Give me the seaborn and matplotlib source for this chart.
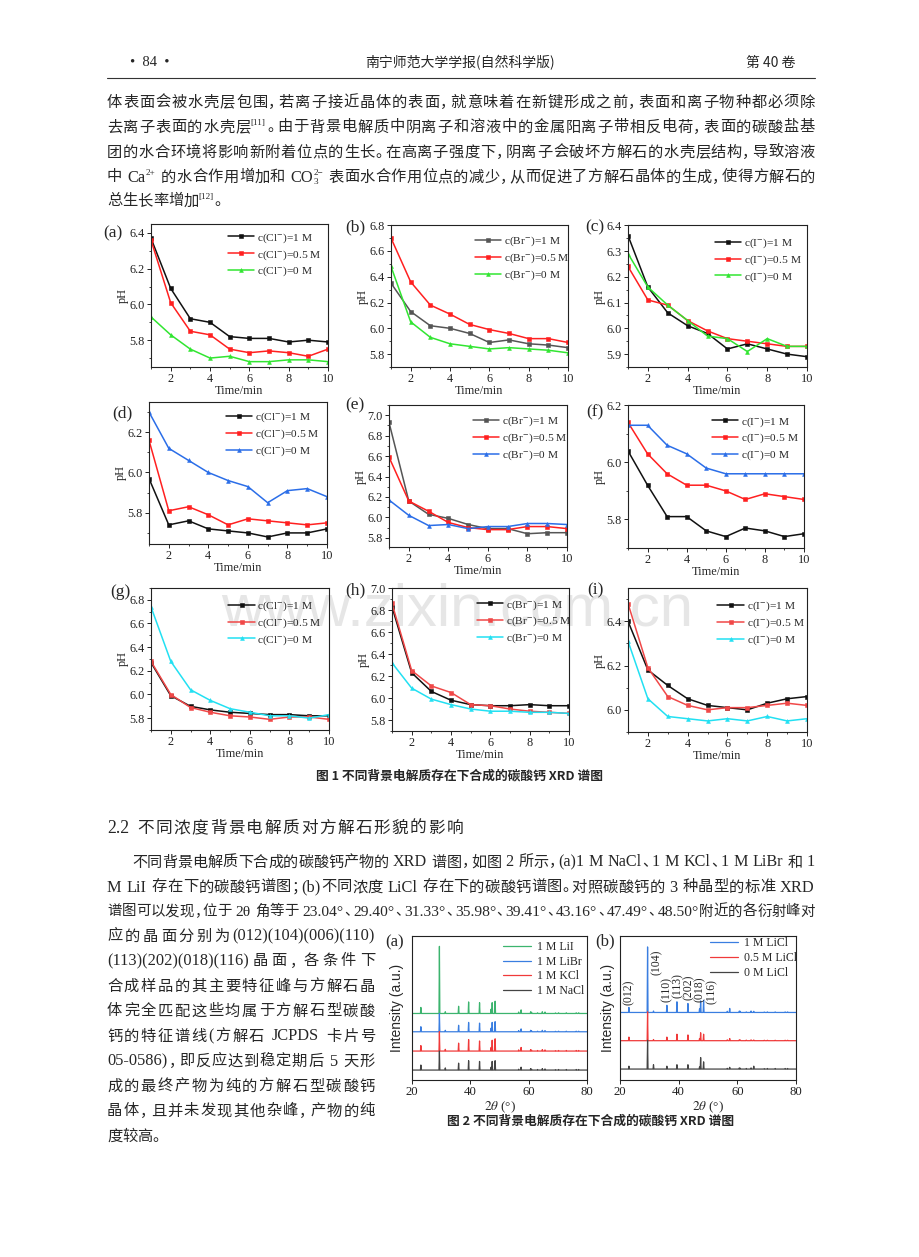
import matplotlib
matplotlib.use('Agg')
import matplotlib.pyplot as plt
from matplotlib.ticker import MultipleLocator, FormatStrFormatter
import seaborn as sns

W, H = 920, 1257

# pH readings for fig 1
time_min = [1, 2, 3, 4, 5, 6, 7, 8, 9, 10]

ph_a_1m = [6.37, 6.09, 5.92, 5.90, 5.82, 5.81, 5.81, 5.79, 5.80, 5.79]
ph_a_05m = [6.36, 6.01, 5.85, 5.83, 5.75, 5.73, 5.74, 5.73, 5.71, 5.75]
ph_a_0m = [5.93, 5.83, 5.75, 5.70, 5.71, 5.68, 5.68, 5.69, 5.69, 5.68]

ph_b_1m = [6.35, 6.13, 6.02, 6.00, 5.96, 5.89, 5.91, 5.88, 5.87, 5.85]
ph_b_05m = [6.70, 6.36, 6.18, 6.11, 6.03, 5.99, 5.96, 5.92, 5.92, 5.89]
ph_b_0m = [6.48, 6.05, 5.93, 5.88, 5.86, 5.84, 5.85, 5.84, 5.83, 5.81]

ph_c_1m = [6.36, 6.16, 6.06, 6.01, 5.98, 5.92, 5.94, 5.92, 5.90, 5.89]
ph_c_05m = [6.24, 6.11, 6.09, 6.03, 5.99, 5.96, 5.95, 5.94, 5.93, 5.93]
ph_c_0m = [6.29, 6.16, 6.09, 6.03, 5.97, 5.96, 5.91, 5.96, 5.93, 5.93]

ph_d_1m = [5.97, 5.74, 5.76, 5.72, 5.71, 5.70, 5.68, 5.70, 5.70, 5.72]
ph_d_05m = [6.16, 5.81, 5.83, 5.79, 5.74, 5.77, 5.76, 5.75, 5.74, 5.75]
ph_d_0m = [6.30, 6.12, 6.06, 6.00, 5.96, 5.93, 5.85, 5.91, 5.92, 5.88]

ph_e_1m = [6.93, 6.16, 6.03, 5.99, 5.93, 5.89, 5.89, 5.84, 5.85, 5.85]
ph_e_05m = [6.59, 6.16, 6.06, 5.95, 5.90, 5.88, 5.88, 5.91, 5.91, 5.89]
ph_e_0m = [6.17, 6.02, 5.92, 5.93, 5.89, 5.91, 5.91, 5.94, 5.94, 5.93]

ph_f_1m = [6.04, 5.92, 5.81, 5.81, 5.76, 5.74, 5.77, 5.76, 5.74, 5.75]
ph_f_05m = [6.14, 6.03, 5.96, 5.92, 5.92, 5.90, 5.87, 5.89, 5.88, 5.87]
ph_f_0m = [6.13, 6.13, 6.06, 6.03, 5.98, 5.96, 5.96, 5.96, 5.96, 5.96]

ph_g_1m = [6.27, 5.99, 5.90, 5.87, 5.85, 5.84, 5.83, 5.83, 5.82, 5.82]
ph_g_05m = [6.28, 6.00, 5.89, 5.85, 5.82, 5.81, 5.79, 5.81, 5.81, 5.79]
ph_g_0m = [6.74, 6.28, 6.04, 5.95, 5.88, 5.85, 5.82, 5.82, 5.80, 5.83]

ph_h_1m = [6.83, 6.23, 6.06, 5.98, 5.94, 5.93, 5.93, 5.94, 5.93, 5.93]
ph_h_05m = [6.86, 6.25, 6.11, 6.05, 5.94, 5.93, 5.90, 5.88, 5.87, 5.86]
ph_h_0m = [6.32, 6.09, 5.99, 5.94, 5.90, 5.88, 5.88, 5.87, 5.87, 5.86]

ph_i_1m = [6.40, 6.18, 6.11, 6.05, 6.02, 6.01, 6.00, 6.03, 6.05, 6.06]
ph_i_05m = [6.48, 6.19, 6.06, 6.02, 6.00, 6.01, 6.01, 6.02, 6.03, 6.02]
ph_i_0m = [6.31, 6.05, 5.97, 5.96, 5.95, 5.96, 5.95, 5.97, 5.95, 5.96]

conc_labels = ['1', '0.5', '0']

# XRD (fig 2): calcite peak positions and peak heights per trace
two_theta_peaks = [23.04, 29.40, 31.42, 35.98, 39.41, 43.16, 47.12, 47.49, 48.50, 56.57, 57.40,
                   60.68, 61.00, 63.05, 64.68, 65.60, 69.20, 70.25, 72.90, 76.30, 77.15]

xrd_a_names = ['1 M LiI', '1 M LiBr', '1 M KCl', '1 M NaCl']
xrd_a_offsets = [46.2, 33.5, 20.1, 6.9]
peaks_lii = [4.2, 46.6, 1.2, 5.0, 8.0, 7.5, 3.0, 7.5, 8.5, 1.0, 2.5, 1.2, 0.8, 0.5, 1.2, 1.0, 0.4, 0.5, 0.5, 0.5, 0.5]
peaks_libr = [3.5, 12.7, 1.0, 4.5, 6.5, 6.0, 2.5, 6.5, 7.0, 0.8, 2.0, 1.0, 0.6, 0.4, 1.0, 0.8, 0.3, 0.4, 0.4, 0.4, 0.4]
peaks_kcl = [3.8, 13.4, 1.2, 5.5, 8.0, 7.0, 2.5, 7.5, 8.5, 0.8, 2.5, 1.0, 0.6, 0.4, 1.0, 0.8, 0.3, 0.4, 0.4, 0.4, 0.4]
peaks_nacl = [3.5, 13.2, 1.5, 4.8, 6.5, 6.0, 2.0, 6.0, 6.5, 0.6, 2.0, 1.0, 0.6, 0.4, 1.0, 0.8, 0.3, 0.4, 0.4, 0.4, 0.4]

xrd_b_names = ['1 M LiCl', '0.5 M LiCl', '0 M LiCl']
xrd_b_offsets = [46.9, 27.3, 7.6]
peaks_licl_1 = [3.5, 45.5, 1.0, 5.0, 7.4, 6.2, 2.5, 8.0, 8.5, 0.8, 2.8, 1.0, 0.8, 0.4, 1.0, 0.8, 0.3, 0.4, 0.4, 0.4, 0.4]
peaks_licl_05 = [2.5, 20.0, 0.8, 2.5, 4.5, 4.0, 1.5, 5.5, 4.5, 0.6, 1.5, 0.6, 0.5, 0.4, 0.6, 0.5, 0.3, 0.3, 0.3, 0.3, 0.3]
peaks_licl_0 = [2.0, 20.0, 3.0, 2.0, 3.0, 3.0, 1.5, 8.0, 5.0, 0.5, 1.2, 0.8, 0.6, 0.4, 0.8, 2.0, 0.3, 0.4, 0.4, 0.4, 0.4]

hkl_labels = ['(012)', '(104)', '(110)', '(113)', '(202)', '(018)', '(116)']
hkl_2theta = [23.0, 32.5, 36.1, 39.7, 43.3, 47.3, 51.3]

sns.set_theme(style='ticks', context='paper')
plt.rcParams.update({
    'font.family': ['Liberation Serif', 'Noto Sans CJK SC'],
    'mathtext.fontset': 'stix',
    'axes.facecolor': 'none',
    'axes.edgecolor': '#222222',
    'axes.linewidth': 0.8,
    'xtick.direction': 'out', 'ytick.direction': 'out',
    'xtick.major.size': 3, 'ytick.major.size': 3,
    'xtick.minor.size': 1.6, 'ytick.minor.size': 1.6,
    'xtick.major.width': 0.7, 'ytick.major.width': 0.7,
    'xtick.minor.width': 0.6, 'ytick.minor.width': 0.6,
    'xtick.major.pad': 1.5, 'ytick.major.pad': 1.5,
    'xtick.color': '#222222', 'ytick.color': '#222222',
})

fig = plt.figure(figsize=(W / 100, H / 100), dpi=100)
fig.patch.set_facecolor('white')


def add_ax(l, t, r, b):
    return fig.add_axes([l / W, 1 - b / H, (r - l) / W, (b - t) / H])


#---- text helpers (justified lines like the printed page)
PUNCT = set('，。、；：')


def split_units(runs):
    out = []
    for r in runs:
        if isinstance(r, tuple):
            out.append(r)
            continue
        buf = ''
        for ch in r:
            if ch == ' ':
                if buf:
                    out.append((buf, 'lat'))
                    buf = ''
                out.append((' ', 'sp'))
            elif ord(ch) < 0x2000 or ch == '−':
                buf += ch
            else:
                if buf:
                    out.append((buf, 'lat'))
                    buf = ''
                out.append((ch, 'pun' if ch in PUNCT else 'cjk'))
        if buf:
            out.append((buf, 'lat'))
    return out


def put_line(x0, yc, runs, fs=11, x1=None, weight='normal'):
    px = fs * 100 / 72
    rend = fig.canvas.get_renderer()
    items = []
    for s, kind in split_units(runs):
        if kind == 'sp':
            items.append([None, kind, 0.27 * px])
            continue
        small = kind in ('sup', 'sub0')
        fam = 'Noto Sans CJK SC' if kind in ('cjk', 'pun') else 'Liberation Serif'
        size = fs * 0.6 if small else (fs * 1.07 if kind == 'lat' else fs)
        t = fig.text(0, 0, s, fontsize=size, family=fam, weight=weight, va='baseline')
        if kind == 'cjk':
            adv = px
        elif kind == 'pun':
            adv = 0.62 * px
        elif kind == 'sub0':
            adv = 0
        else:
            adv = t.get_window_extent(renderer=rend).width + (1 if small else 0.5)
        items.append([t, kind, adv])
    gap = 0.0
    if x1 is not None:
        n = sum(1 for it in items[1:] if it[1] not in ('sup', 'sub0'))
        nat = sum(it[2] for it in items)
        gap = (x1 - x0 - nat) / max(n, 1)
        if gap < 0:
            f = (x1 - x0) / nat
            for it in items:
                if it[0] is not None:
                    it[0].set_fontsize(it[0].get_fontsize() * f)
                it[2] *= f
            gap = 0.0
    x = x0
    base = yc + 0.36 * px
    for i, (t, kind, adv) in enumerate(items):
        if i and kind not in ('sup', 'sub0'):
            x += gap
        if t is not None:
            dy = {'sup': -0.42 * px, 'sub0': 0.15 * px}.get(kind, 0)
            t.set_position((x / W, 1 - (base + dy) / H))
        x += adv


# header
fig.text(150 / W, 1 - 63 / H, '•  84  •', fontsize=10.5, family='Liberation Serif', ha='center', va='center')
fig.text(460 / W, 1 - 63 / H, '南宁师范大学学报(自然科学版)', fontsize=10, family=['Noto Sans CJK SC'], ha='center', va='center')
fig.text(795 / W, 1 - 63 / H, '第 40 卷', fontsize=10, family=['Noto Sans CJK SC', 'Liberation Serif'], ha='right', va='center')
fig.add_artist(plt.Line2D([107 / W, 815 / W], [1 - 78 / H, 1 - 78 / H], color='#333333', lw=0.8))

# first paragraph
put_line(107, 101, ['体表面会被水壳层包围，若离子接近晶体的表面，就意味着在新键形成之前，表面和离子物种都必须除'], x1=815)
put_line(107, 126, ['去离子表面的水壳层', ('[11]', 'sup'), '。由于背景电解质中阴离子和溶液中的金属阳离子带相反电荷，表面的碳酸盐基'], x1=815)
put_line(107, 151, ['团的水合环境将影响新附着位点的生长。在高离子强度下，阴离子会破坏方解石的水壳层结构，导致溶液'], x1=815)
put_line(107, 176, ['中 Ca', ('2+', 'sup'), ' 的水合作用增加和 CO', ('3', 'sub0'), ('2−', 'sup'),
                    ' 表面水合作用位点的减少，从而促进了方解石晶体的生成，使得方解石的'], x1=815)
put_line(107, 200, ['总生长率增加', ('[12]', 'sup'), '。'])

# watermark (sits behind the axes)
fig.text(221 / W, 1 - 625 / H, 'www.zixin.com.cn', fontsize=43, family='Liberation Sans',
         color='#e6e6e6', zorder=-5, va='baseline')

BLACK, GRAY, RED, RED2 = '#111111', '#555555', '#ff2020', '#f04848'
GREEN, BLUE, CYAN = '#31e531', '#2b6ee8', '#22e0f2'

panels = [
    ('(a)', (151, 224, 328, 367), 'Cl', [ph_a_1m, ph_a_05m, ph_a_0m], [BLACK, RED, GREEN], (5.65, 6.45), 0.2, (0.435, 0.95), (113, 233)),
    ('(b)', (391, 225, 568, 367), 'Br', [ph_b_1m, ph_b_05m, ph_b_0m], [GRAY, RED, GREEN], (5.70, 6.801), 0.2, (0.475, 0.93), (355, 227)),
    ('(c)', (628, 225, 807, 367), 'I', [ph_c_1m, ph_c_05m, ph_c_0m], [BLACK, RED, GREEN], (5.85, 6.401), 0.1, (0.486, 0.92), (595, 227)),
    ('(d)', (149, 402, 327, 544), 'Cl', [ph_d_1m, ph_d_05m, ph_d_0m], [BLACK, RED, BLUE], (5.645, 6.35), 0.2, (0.43, 0.94), (122, 413)),
    ('(e)', (389, 405, 567, 547), 'Br', [ph_e_1m, ph_e_05m, ph_e_0m], [GRAY, RED, BLUE], (5.71, 7.10), 0.2, (0.47, 0.93), (355, 405)),
    ('(f)', (628, 405, 804, 548), 'I', [ph_f_1m, ph_f_05m, ph_f_0m], [BLACK, RED, BLUE], (5.70, 6.201), 0.2, (0.476, 0.93), (595, 412)),
    ('(g)', (151, 588, 329, 730), 'Cl', [ph_g_1m, ph_g_05m, ph_g_0m], [BLACK, RED2, CYAN], (5.70, 6.90), 0.2, (0.435, 0.92), (120, 592)),
    ('(h)', (392, 588, 569, 731), 'Br', [ph_h_1m, ph_h_05m, ph_h_0m], [BLACK, RED2, CYAN], (5.70, 7.001), 0.2, (0.48, 0.93), (355, 590)),
    ('(i)', (628, 588, 807, 732), 'I', [ph_i_1m, ph_i_05m, ph_i_0m], [BLACK, RED2, CYAN], (5.90, 6.55), 0.2, (0.50, 0.92), (595, 590)),
]

for tag, box, ion, series, colors, ylim, ystep, leg_xy, tag_xy in panels:
    ax = add_ax(*box)
    for vals, conc, c, m in zip(series, conc_labels, colors, ['s', 's', '^']):
        sns.lineplot(x=time_min, y=vals, ax=ax, color=c, marker=m, markersize=2.8,
                     markeredgecolor=c, markeredgewidth=0.4, lw=1.1,
                     label='c(' + ion + '$^{-}$)=' + conc + ' M')
    ax.set_xlim(1, 10)
    ax.set_ylim(*ylim)
    ax.xaxis.set_major_locator(MultipleLocator(2))
    ax.xaxis.set_minor_locator(MultipleLocator(1))
    ax.yaxis.set_major_locator(MultipleLocator(ystep))
    ax.yaxis.set_minor_locator(MultipleLocator(ystep / 2))
    ax.yaxis.set_major_formatter(FormatStrFormatter('%.1f'))
    ax.tick_params(labelsize=8.8)
    ax.set_xlabel('Time/min', fontsize=8.8, labelpad=0)
    ax.set_ylabel('pH', fontsize=8.8, labelpad=0.5)
    ax.legend(loc='upper left', bbox_to_anchor=leg_xy, frameon=False, fontsize=8.2,
              handlelength=2.3, handletextpad=0.25, labelspacing=0.3, borderpad=0, borderaxespad=0)
    fig.text(tag_xy[0] / W, 1 - tag_xy[1] / H, tag, fontsize=12.5, family='Liberation Serif', ha='center', va='center')

fig.text(460 / W, 1 - 776 / H, '图 1 不同背景电解质存在下合成的碳酸钙 XRD 谱图', fontsize=9.2,
         family=['Noto Sans CJK SC'], weight='bold', ha='center', va='center')

# second part of text
put_line(107, 827, ['2.2 不同浓度背景电解质对方解石形貌的影响'], fs=12, x1=463)
put_line(132, 861, ['不同背景电解质下合成的碳酸钙产物的 XRD 谱图，如图 2 所示，(a)1 M NaCl、1 M KCl、1 M LiBr 和 1'], x1=815)
put_line(107, 886, ['M LiI 存在下的碳酸钙谱图；(b)不同浓度 LiCl 存在下的碳酸钙谱图。对照碳酸钙的 3 种晶型的标准 XRD'], x1=815)
put_line(107, 910, ['谱图可以发现，位于 2θ 角等于 23.04°、29.40°、31.33°、35.98°、39.41°、43.16°、47.49°、48.50°附近的各衍射峰对'], x1=815)
left_col = ['应的晶面分别为(012)(104)(006)(110)',
            '(113)(202)(018)(116)晶面，各条件下',
            '合成样品的其主要特征峰与方解石晶',
            '体完全匹配这些均属于方解石型碳酸',
            '钙的特征谱线(方解石 JCPDS 卡片号',
            '05-0586)，即反应达到稳定期后 5 天形',
            '成的最终产物为纯的方解石型碳酸钙',
            '晶体，且并未发现其他杂峰，产物的纯']
for k, line in enumerate(left_col):
    put_line(107, 935 + 25 * k, [line], x1=375)
put_line(107, 1135, ['度较高。'])


def stick_profile(pos, heights, base, hw=0.15):
    xs, ys = [20.0], [base]
    for p, h in zip(pos, heights):
        xs += [p - hw, p, p + hw]
        ys += [base, base + h, base]
    xs.append(80.0)
    ys.append(base)
    return xs, ys


xrd_sets = [
    ((412, 936, 587, 1080), list(zip(xrd_a_names, xrd_a_offsets, [peaks_lii, peaks_libr, peaks_kcl, peaks_nacl],
                                     ['#3cb46e', '#3a7ee0', '#f03a3a', '#444444'])), (0.52, 0.965), 6, '(a)', (395, 942)),
    ((620, 936, 796, 1080), list(zip(xrd_b_names, xrd_b_offsets, [peaks_licl_1, peaks_licl_05, peaks_licl_0],
                                     ['#3a7ee0', '#f03a3a', '#444444'])), (0.51, 0.99), 3.5, '(b)', (605, 941)),
]
for box, traces, leg_xy, ypad, tag, tag_xy in xrd_sets:
    ax = add_ax(*box)
    for name, base, heights, color in traces:
        xs, ys = stick_profile(two_theta_peaks, heights, base)
        sns.lineplot(x=xs, y=ys, ax=ax, color=color, lw=0.9, estimator=None, sort=False, label=name)
    ax.set_xlim(20, 80)
    ax.set_ylim(0, 100)
    ax.set_yticks([])
    ax.set_xticks([20, 40, 60, 80])
    ax.tick_params(labelsize=9.2)
    ax.set_ylabel('Intensity (a.u.)', family='Liberation Sans', fontsize=10, labelpad=ypad)
    ax.set_xlabel(r'$2\theta$ (°)', fontsize=9.5, labelpad=1)
    ax.legend(loc='upper left', bbox_to_anchor=leg_xy, frameon=False, fontsize=8.5,
              handlelength=2.4, handletextpad=0.5, labelspacing=0.22, borderpad=0, borderaxespad=0)
    fig.text(tag_xy[0] / W, 1 - tag_xy[1] / H, tag, fontsize=12, family='Liberation Serif', ha='center', va='center')
    if tag == '(b)':
        lab_y = [52, 72.7, 54.3, 56.6, 55.4, 54.0, 53.0]
        for lab, tx, ty in zip(hkl_labels, hkl_2theta, lab_y):
            ax.text(tx, ty, lab, rotation=90, ha='center', va='bottom', fontsize=8.5)

fig.text(591 / W, 1 - 1121 / H, '图 2 不同背景电解质存在下合成的碳酸钙 XRD 谱图', fontsize=9.2,
         family=['Noto Sans CJK SC'], weight='bold', ha='center', va='center')

fig.savefig('out.png', dpi=100, facecolor='white')
